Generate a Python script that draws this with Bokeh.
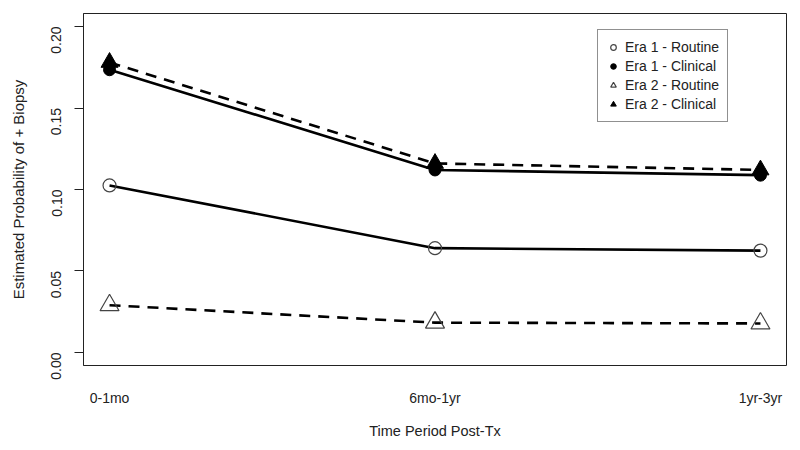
import math
from bokeh.plotting import figure
from bokeh.models import FixedTicker, Range1d, Legend, LegendItem, NumeralTickFormatter
from bokeh.embed import file_html
from bokeh.resources import INLINE

periods = ["0-1mo", "6mo-1yr", "1yr-3yr"]
era1_routine = [0.1025, 0.064, 0.0625]
era1_clinical = [0.1735, 0.112, 0.1088]
era2_routine = [0.029, 0.0183, 0.0178]
era2_clinical = [0.178, 0.116, 0.112]
y_ticks = [0.00, 0.05, 0.10, 0.15, 0.20]

xs = list(range(1, len(periods) + 1))
FONT = "Liberation Sans"
TXT = "#222222"

p = figure(width=792, height=442, output_backend="svg", toolbar_location=None,
           x_range=Range1d(0.92, 3.08), y_range=Range1d(-0.008, 0.208),
           min_border_left=83, min_border_right=6, min_border_top=13, min_border_bottom=77)
p.background_fill_color = "white"
p.border_fill_color = "white"
p.outline_line_color = "#222222"
p.outline_line_width = 1
p.xgrid.visible = False
p.ygrid.visible = False

# x axis
p.xaxis.ticker = FixedTicker(ticks=xs)
p.xaxis.major_label_overrides = {x: lab for x, lab in zip(xs, periods)}
p.xaxis.major_tick_line_color = None
p.xaxis.minor_tick_line_color = None
p.xaxis.axis_line_color = None
p.xaxis.major_label_standoff = 18
p.xaxis.major_label_text_font = FONT
p.xaxis.major_label_text_font_size = "14px"
p.xaxis.major_label_text_color = TXT
p.xaxis.axis_label = "Time Period Post-Tx"
p.xaxis.axis_label_standoff = 14
p.xaxis.axis_label_text_font = FONT
p.xaxis.axis_label_text_font_size = "14.5px"
p.xaxis.axis_label_text_font_style = "normal"
p.xaxis.axis_label_text_color = TXT

# y axis
p.yaxis.ticker = FixedTicker(ticks=y_ticks)
p.yaxis.formatter = NumeralTickFormatter(format="0.00")
p.yaxis.minor_tick_line_color = None
p.yaxis.major_tick_in = 0
p.yaxis.major_tick_out = 9
p.yaxis.major_tick_line_color = "#222222"
p.yaxis.axis_line_color = "#222222"
p.yaxis.major_label_orientation = math.pi / 2
p.yaxis.major_label_standoff = 18
p.yaxis.major_label_text_font = FONT
p.yaxis.major_label_text_font_size = "14px"
p.yaxis.major_label_text_color = TXT
p.yaxis.axis_label = "Estimated Probability of + Biopsy"
p.yaxis.axis_label_standoff = 17
p.yaxis.axis_label_text_font = FONT
p.yaxis.axis_label_text_font_size = "15px"
p.yaxis.axis_label_text_font_style = "normal"
p.yaxis.axis_label_text_color = TXT

# lines
p.line(xs, era1_routine, line_color="black", line_width=2.6)
p.line(xs, era1_clinical, line_color="black", line_width=2.6)
p.line(xs, era2_routine, line_color="black", line_width=2.6, line_dash="11 8")
p.line(xs, era2_clinical, line_color="black", line_width=2.6, line_dash="11 8")

# markers
r1 = p.scatter(xs, era1_routine, marker="circle", size=13, line_color="#444444",
               line_width=1.2, fill_alpha=0)
r2 = p.scatter(xs, era1_clinical, marker="circle", size=12, line_color="black",
               fill_color="black")
r3 = p.scatter(xs, era2_routine, marker="triangle", size=19, line_color="#444444",
               line_width=1.2, fill_alpha=0)
r4 = p.scatter(xs, era2_clinical, marker="triangle", size=17, line_color="black",
               fill_color="black")

legend = Legend(items=[
    LegendItem(label="Era 1 - Routine", renderers=[r1]),
    LegendItem(label="Era 1 - Clinical", renderers=[r2]),
    LegendItem(label="Era 2 - Routine", renderers=[r3]),
    LegendItem(label="Era 2 - Clinical", renderers=[r4]),
], location=(514, 243))
legend.label_text_font = FONT
legend.label_text_font_size = "14px"
legend.label_text_color = TXT
legend.glyph_width = 14
legend.glyph_height = 18
legend.label_height = 18
legend.spacing = 1
legend.padding = 8
legend.margin = 0
legend.label_standoff = 5
legend.border_line_color = "#222222"
legend.border_line_width = 1
legend.background_fill_alpha = 1
p.add_layout(legend)

open("out.html", "w").write(file_html(p, INLINE))
